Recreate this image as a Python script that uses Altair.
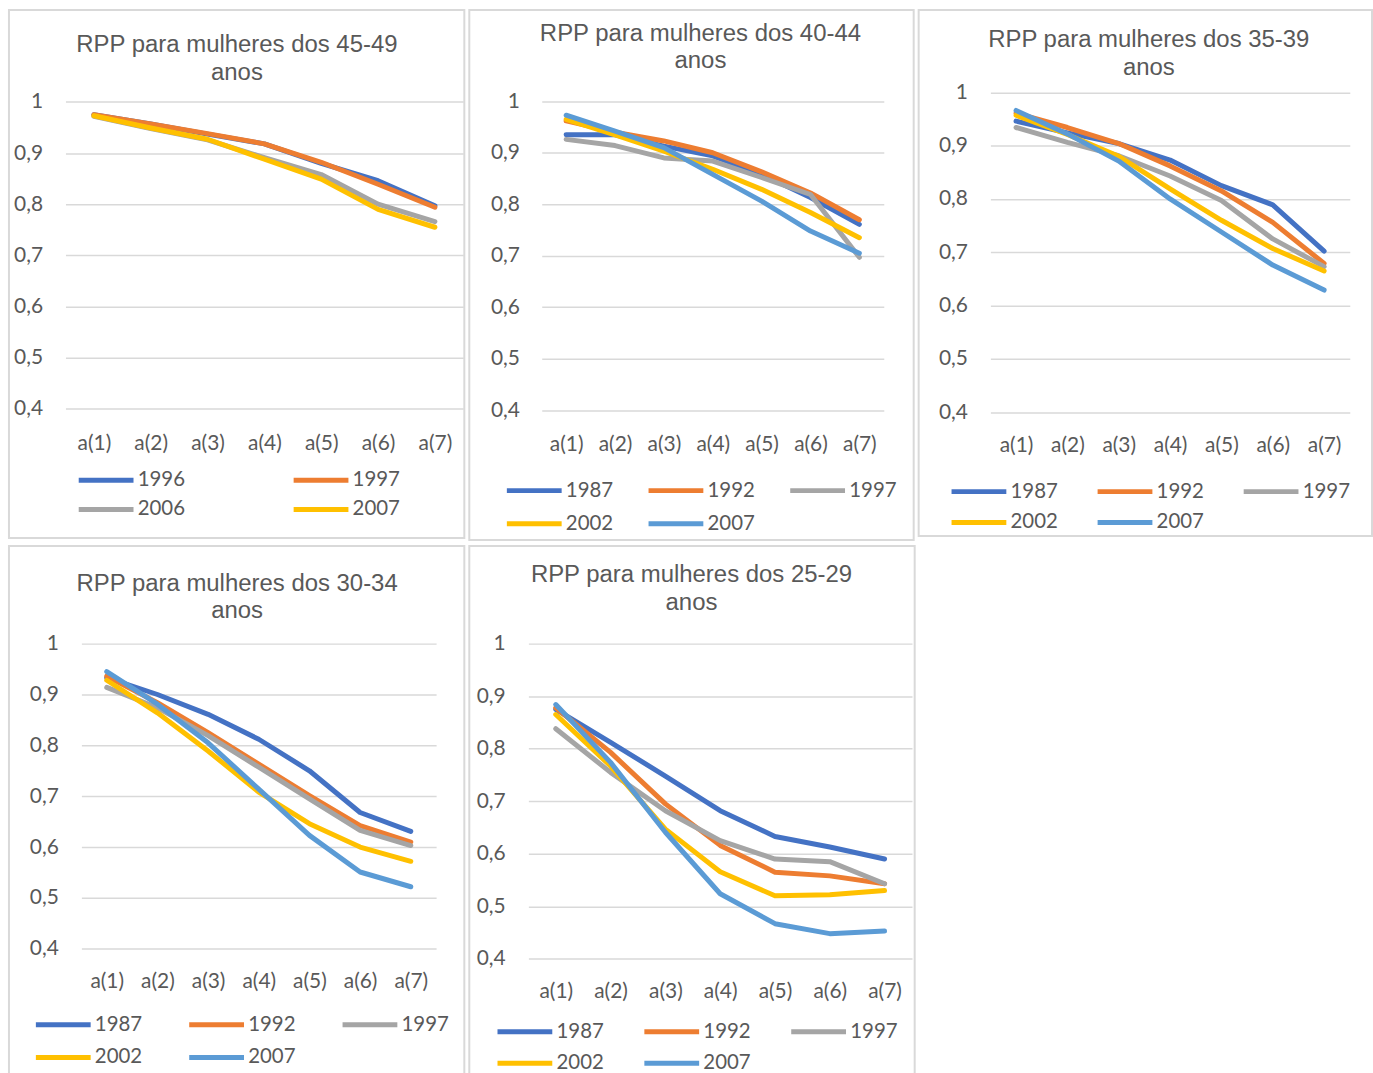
import altair as alt
import pandas as pd

# Categorias do eixo horizontal e marcas do eixo vertical
categorias = ["a(1)", "a(2)", "a(3)", "a(4)", "a(5)", "a(6)", "a(7)"]
marcas_y = [0.4, 0.5, 0.6, 0.7, 0.8, 0.9, 1.0]

# Paleta Office
cores_office = ["#4472C4", "#ED7D31", "#A5A5A5", "#FFC000", "#5B9BD5"]

# RPP 45-49 anos
anos_45_49 = ["1996", "1997", "2006", "2007"]
rpp_45_49_1996 = [0.975, 0.957, 0.937, 0.918, 0.880, 0.846, 0.797]
rpp_45_49_1997 = [0.975, 0.957, 0.938, 0.918, 0.882, 0.839, 0.794]
rpp_45_49_2006 = [0.972, 0.948, 0.926, 0.891, 0.858, 0.800, 0.766]
rpp_45_49_2007 = [0.973, 0.949, 0.927, 0.888, 0.849, 0.790, 0.755]

# RPP 40-44 anos
anos_40_44 = ["1987", "1992", "1997", "2002", "2007"]
rpp_40_44_1987 = [0.935, 0.935, 0.913, 0.894, 0.858, 0.813, 0.761]
rpp_40_44_1992 = [0.962, 0.940, 0.923, 0.900, 0.863, 0.822, 0.770]
rpp_40_44_1997 = [0.926, 0.914, 0.890, 0.884, 0.852, 0.819, 0.697]
rpp_40_44_2002 = [0.965, 0.935, 0.903, 0.868, 0.829, 0.784, 0.735]
rpp_40_44_2007 = [0.973, 0.942, 0.910, 0.858, 0.806, 0.748, 0.705]

# RPP 35-39 anos
anos_35_39 = ["1987", "1992", "1997", "2002", "2007"]
rpp_35_39_1987 = [0.946, 0.924, 0.904, 0.873, 0.825, 0.789, 0.702]
rpp_35_39_1992 = [0.961, 0.934, 0.904, 0.862, 0.815, 0.756, 0.679]
rpp_35_39_1997 = [0.934, 0.906, 0.881, 0.843, 0.797, 0.725, 0.673]
rpp_35_39_2002 = [0.957, 0.921, 0.880, 0.819, 0.760, 0.707, 0.665]
rpp_35_39_2007 = [0.966, 0.922, 0.871, 0.800, 0.738, 0.676, 0.629]

# RPP 30-34 anos
anos_30_34 = ["1987", "1992", "1997", "2002", "2007"]
rpp_30_34_1987 = [0.933, 0.900, 0.861, 0.812, 0.750, 0.668, 0.631]
rpp_30_34_1992 = [0.936, 0.884, 0.825, 0.763, 0.701, 0.642, 0.610]
rpp_30_34_1997 = [0.914, 0.874, 0.819, 0.757, 0.695, 0.633, 0.603]
rpp_30_34_2002 = [0.928, 0.864, 0.789, 0.708, 0.646, 0.600, 0.572]
rpp_30_34_2007 = [0.945, 0.881, 0.805, 0.714, 0.623, 0.551, 0.522]

# RPP 25-29 anos
anos_25_29 = ["1987", "1992", "1997", "2002", "2007"]
rpp_25_29_1987 = [0.875, 0.812, 0.748, 0.682, 0.633, 0.613, 0.590]
rpp_25_29_1992 = [0.878, 0.793, 0.695, 0.616, 0.565, 0.558, 0.543]
rpp_25_29_1997 = [0.838, 0.755, 0.682, 0.625, 0.590, 0.585, 0.543]
rpp_25_29_2002 = [0.865, 0.767, 0.647, 0.566, 0.520, 0.522, 0.530]
rpp_25_29_2007 = [0.884, 0.774, 0.641, 0.524, 0.467, 0.448, 0.453]

FONTE_TXT = "Lato"
FONTE_TIT = "Liberation Sans"
CINZA_TXT = "#595959"
CINZA_GRADE = "#d9d9d9"

# Geometria de cada painel (pixels relativos ao canto do painel)
geo_45_49 = dict(w=457, h=530, grade_x=[56.7, 456], faixa_y=[400.4, 92.3], rot_y=33.7, rot_x=435.2,
                 tit_x=228.8, tit_y=[42.7, 70], leg_x=85.5, leg_y=459.7, cols=2, rpad=6.6, cpad=97.7)
geo_40_44 = dict(w=446, h=532, grade_x=[72.7, 416], faixa_y=[401.7, 91.7], rot_y=50.3, rot_x=436.2,
                 tit_x=232, tit_y=[31.6, 58.6], leg_x=53.2, leg_y=470.2, cols=3, rpad=10.5, cpad=24.2)
geo_35_39 = dict(w=455, h=528, grade_x=[72, 432.7], faixa_y=[403.7, 82.7], rot_y=49, rot_x=437.2,
                 tit_x=231, tit_y=[37.5, 65.5], leg_x=48.5, leg_y=471.2, cols=3, rpad=8.2, cpad=28.6)
geo_30_34 = dict(w=457, h=535, grade_x=[72.7, 428.7], faixa_y=[404.3, 98], rot_y=49.5, rot_x=437.2,
                 tit_x=229, tit_y=[45, 72.5], leg_x=42.5, leg_y=468.2, cols=3, rpad=10.2, cpad=35.9)
geo_25_29 = dict(w=447, h=535, grade_x=[59.3, 444.3], faixa_y=[414.4, 98], rot_y=36, rot_x=446.9,
                 tit_x=223, tit_y=[36.6, 64.6], leg_x=43.8, leg_y=475.2, cols=3, rpad=8.9, cpad=29.4)


def painel(titulo, anos, series, g):
    dados = pd.DataFrame([
        {"categoria": c, "ano": a, "rpp": v}
        for a, valores in zip(anos, series)
        for c, v in zip(categorias, valores)
    ])
    eixo_x = alt.X(
        "categoria:N", sort=categorias, title=None,
        scale=alt.Scale(type="point", range=g["grade_x"], padding=0.5),
        axis=alt.Axis(domain=False, ticks=False, tickSize=0, grid=False, labelAngle=0,
                      labelPadding=0, labelBaseline="middle", offset=-(g["h"] - g["rot_x"]),
                      labelFont=FONTE_TXT, labelFontSize=21, labelColor=CINZA_TXT),
    )
    eixo_y = alt.Y(
        "rpp:Q", title=None,
        scale=alt.Scale(domain=[0.4, 1.0], range=g["faixa_y"], zero=False, nice=False),
        axis=alt.Axis(values=marcas_y, labelExpr="replace(format(datum.value, '.1~f'), '.', ',')",
                      domain=False, ticks=False, tickSize=0, labelPadding=0, offset=-g["rot_y"],
                      grid=True, gridColor=CINZA_GRADE, gridWidth=1.5,
                      labelFont=FONTE_TXT, labelFontSize=21, labelColor=CINZA_TXT),
    )
    cor = alt.Color(
        "ano:N", sort=anos,
        scale=alt.Scale(domain=anos, range=cores_office[:len(anos)]),
        legend=alt.Legend(title=None, orient="none", direction="horizontal",
                          legendX=g["leg_x"], legendY=g["leg_y"],
                          columns=g["cols"], symbolType="M-3,0H3", symbolSize=336,
                          symbolStrokeWidth=5, labelOffset=19.7, rowPadding=g["rpad"],
                          columnPadding=g["cpad"], labelFont=FONTE_TXT, labelFontSize=20.5,
                          labelColor=CINZA_TXT),
    )
    linhas = alt.Chart(dados).mark_line(
        strokeWidth=5, strokeCap="round", strokeJoin="round"
    ).encode(x=eixo_x, y=eixo_y, color=cor)

    camadas = [linhas]
    for texto, base in zip(titulo, g["tit_y"]):
        camadas.append(
            alt.Chart(pd.DataFrame({"t": [texto]})).mark_text(
                font=FONTE_TIT, fontSize=24, color=CINZA_TXT, baseline="alphabetic", align="center"
            ).encode(text="t:N", x=alt.value(g["tit_x"]), y=alt.value(base))
        )
    return alt.layer(*camadas).properties(width=g["w"], height=g["h"])


p_45_49 = painel(["RPP para mulheres dos 45-49", "anos"], anos_45_49,
                 [rpp_45_49_1996, rpp_45_49_1997, rpp_45_49_2006, rpp_45_49_2007], geo_45_49)
p_40_44 = painel(["RPP para mulheres dos 40-44", "anos"], anos_40_44,
                 [rpp_40_44_1987, rpp_40_44_1992, rpp_40_44_1997, rpp_40_44_2002, rpp_40_44_2007], geo_40_44)
p_35_39 = painel(["RPP para mulheres dos 35-39", "anos"], anos_35_39,
                 [rpp_35_39_1987, rpp_35_39_1992, rpp_35_39_1997, rpp_35_39_2002, rpp_35_39_2007], geo_35_39)
p_30_34 = painel(["RPP para mulheres dos 30-34", "anos"], anos_30_34,
                 [rpp_30_34_1987, rpp_30_34_1992, rpp_30_34_1997, rpp_30_34_2002, rpp_30_34_2007], geo_30_34)
p_25_29 = painel(["RPP para mulheres dos 25-29", "anos"], anos_25_29,
                 [rpp_25_29_1987, rpp_25_29_1992, rpp_25_29_1997, rpp_25_29_2002, rpp_25_29_2007], geo_25_29)


def independente(c):
    return c.resolve_scale(x="independent", y="independent", color="independent").resolve_legend(
        color="independent")


linha_sup = independente(alt.hconcat(p_45_49, p_40_44, p_35_39, spacing=3))
linha_inf = independente(alt.hconcat(p_30_34, p_25_29, spacing=3))

chart = independente(alt.vconcat(linha_sup, linha_inf, spacing=4)).properties(
    padding={"left": 8, "top": 7, "right": 0, "bottom": 0},
    background="white",
).configure_view(stroke=CINZA_GRADE, strokeWidth=2)

chart.save("out.html", embed_options={"renderer": "svg", "actions": False})
